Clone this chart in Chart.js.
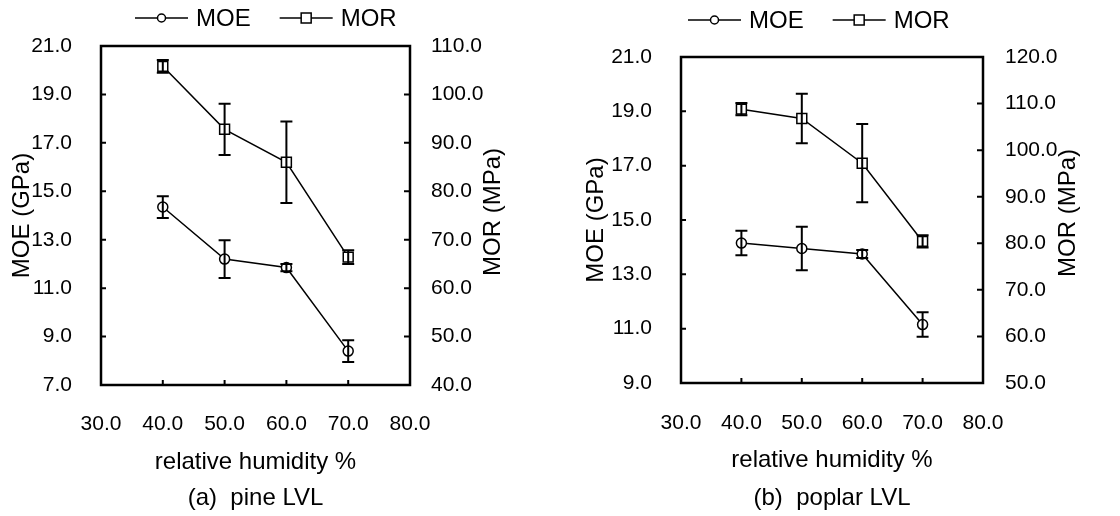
<!DOCTYPE html>
<html>
<head>
<meta charset="utf-8">
<script src="https://cdn.jsdelivr.net/npm/chart.js@4.4.1/dist/chart.umd.min.js"></script>
<style>
  html, body { margin: 0; padding: 0; background: #fff; }
  #wrap { position: relative; width: 1120px; height: 516px; }
  canvas { position: absolute; top: 0; }
</style>
</head>
<body>
<div id="wrap">
  <canvas id="pineChart" width="560" height="516" style="left:0"></canvas>
  <canvas id="poplarChart" width="560" height="516" style="left:560px"></canvas>
</div>
<script>
// relative humidity levels (%)
const humidity = [40, 50, 60, 70];

// (a) pine LVL
const pineMOE = [14.35, 12.2, 11.85, 8.4];
const pineMOEErr = [0.45, 0.78, 0.15, 0.45];
const pineMOR = [105.8, 92.8, 86.0, 66.4];
const pineMORErr = [1.3, 5.3, 8.4, 1.4];

// (b) poplar LVL
const poplarMOE = [14.15, 13.95, 13.75, 11.15];
const poplarMOEErr = [0.45, 0.8, 0.15, 0.45];
const poplarMOR = [108.8, 106.8, 97.2, 80.4];
const poplarMORErr = [1.3, 5.3, 8.4, 1.3];

const FONT = "'Liberation Sans', Arial, sans-serif";
Chart.defaults.font.family = FONT;
Chart.defaults.color = '#000';

// error bars, frame and inward tick marks
const errorBars = {
    id: 'errorBars',
    afterDatasetsDraw(chart) {
        const ctx = chart.ctx;
        ctx.save();
        ctx.strokeStyle = '#000';
        ctx.lineWidth = 2;
        chart.data.datasets.forEach((ds, di) => {
            const meta = chart.getDatasetMeta(di);
            const scale = chart.scales[ds.yAxisID];
            meta.data.forEach((pt, i) => {
                const top = scale.getPixelForValue(ds.data[i] + ds.err[i]);
                const bot = scale.getPixelForValue(ds.data[i] - ds.err[i]);
                ctx.beginPath();
                ctx.moveTo(pt.x, top); ctx.lineTo(pt.x, bot);
                ctx.moveTo(pt.x - 6, top); ctx.lineTo(pt.x + 6, top);
                ctx.moveTo(pt.x - 6, bot); ctx.lineTo(pt.x + 6, bot);
                ctx.stroke();
            });
        });
        ctx.restore();
    },
    afterDraw(chart) {
        const ctx = chart.ctx;
        const a = chart.chartArea;
        const opts = chart.options.plugins.errorBars;
        ctx.save();
        ctx.strokeStyle = '#000';
        ctx.lineWidth = 2.5;
        ctx.strokeRect(a.left, a.top, a.right - a.left, a.bottom - a.top);

        ctx.lineWidth = 2;
        ctx.beginPath();
        const xs = chart.scales.x;
        xs.ticks.forEach(t => {
            if (t.value <= xs.min || t.value >= xs.max) return;
            const px = xs.getPixelForValue(t.value);
            ctx.moveTo(px, a.bottom); ctx.lineTo(px, a.bottom - 5);
        });
        const ys = chart.scales.y;
        ys.ticks.forEach(t => {
            if (t.value <= ys.min || t.value >= ys.max) return;
            const py = ys.getPixelForValue(t.value);
            ctx.moveTo(a.left, py); ctx.lineTo(a.left + 5, py);
        });
        const y1 = chart.scales.y1;
        y1.ticks.forEach(t => {
            if (t.value <= y1.min || t.value >= y1.max) return;
            const py = y1.getPixelForValue(t.value);
            ctx.moveTo(a.right, py); ctx.lineTo(a.right - 6, py);
        });
        ctx.stroke();

        // right axis title, reads bottom to top
        ctx.fillStyle = '#000';
        ctx.font = '24px ' + FONT;
        ctx.textAlign = 'center';
        ctx.textBaseline = 'middle';
        ctx.translate(opts.rightTitleX, opts.rightTitleY);
        ctx.rotate(-Math.PI / 2);
        ctx.fillText(opts.rightTitle, 0, 0);
        ctx.restore();

        // legend: line - marker - line, then label
        ctx.save();
        ctx.font = '24px ' + FONT;
        ctx.textBaseline = 'middle';
        ctx.fillStyle = '#000';
        ctx.strokeStyle = '#000';
        let lx = opts.legendX;
        const ly = opts.legendY;
        chart.data.datasets.forEach(ds => {
            ctx.lineWidth = 1.5;
            ctx.beginPath();
            ctx.moveTo(lx, ly); ctx.lineTo(lx + 53, ly);
            ctx.stroke();
            const cx = lx + 26.5;
            ctx.fillStyle = '#fff';
            ctx.beginPath();
            if (ds.pointStyle === 'circle') {
                ctx.arc(cx, ly, 4, 0, Math.PI * 2);
            } else {
                ctx.rect(cx - 5, ly - 5, 10, 10);
            }
            ctx.fill();
            ctx.stroke();
            ctx.fillStyle = '#000';
            ctx.fillText(ds.label, lx + 61, ly + 1);
            lx += 61 + ctx.measureText(ds.label).width + 29;
        });
        ctx.restore();
    }
};

function makeChart(id, moe, moeErr, mor, morErr, cfg) {
    const ctx = document.getElementById(id).getContext('2d');
    return new Chart(ctx, {
        type: 'line',
        data: {
            datasets: [{
                label: 'MOE',
                data: moe,
                err: moeErr,
                yAxisID: 'y',
                borderColor: '#000',
                borderWidth: 1.5,
                pointStyle: 'circle',
                pointRadius: 5,
                pointBorderWidth: 1.5,
                pointBackgroundColor: '#fff',
                pointBorderColor: '#000'
            }, {
                label: 'MOR',
                data: mor,
                err: morErr,
                yAxisID: 'y1',
                borderColor: '#000',
                borderWidth: 1.5,
                pointStyle: 'rect',
                pointRadius: 7,
                pointBorderWidth: 1.5,
                pointBackgroundColor: '#fff',
                pointBorderColor: '#000'
            }],
            labels: humidity
        },
        options: {
            responsive: false,
            animation: false,
            devicePixelRatio: 1,
            layout: { padding: { top: cfg.top, left: 0, right: 0, bottom: 0 } },
            scales: {
                x: {
                    type: 'linear',
                    min: 30, max: 80,
                    afterFit: s => { s.height = cfg.xHeight; },
                    grid: { display: false },
                    border: { display: false },
                    ticks: { stepSize: 10, padding: cfg.xPad, font: { size: 21 },
                        callback: v => v.toFixed(1) },
                    title: { display: true, text: 'relative humidity %', font: { size: 24 },
                        padding: { bottom: cfg.xTitlePad } }
                },
                y: {
                    position: 'left',
                    min: cfg.yMin, max: 21,
                    afterFit: s => { s.width = cfg.left; },
                    grid: { display: false },
                    border: { display: false },
                    ticks: { stepSize: 2, padding: 21, font: { size: 21 },
                        callback: v => v.toFixed(1) },
                    title: { display: true, text: 'MOE (GPa)', font: { size: 24 },
                        padding: { top: cfg.yTitlePad } }
                },
                y1: {
                    position: 'right',
                    min: cfg.y1Min, max: cfg.y1Max,
                    afterFit: s => { s.width = 560 - cfg.right; },
                    grid: { display: false },
                    border: { display: false },
                    ticks: { stepSize: 10, padding: cfg.y1Pad, font: { size: 21 },
                        callback: v => v.toFixed(1) }
                }
            },
            plugins: {
                legend: { display: false },
                tooltip: { enabled: false },
                title: {
                    display: true,
                    position: 'bottom',
                    fullSize: false,
                    text: cfg.caption,
                    font: { size: 24, weight: 'normal' },
                    padding: { top: 0, bottom: 3.6 }
                },
                errorBars: {
                    rightTitle: 'MOR (MPa)',
                    rightTitleX: cfg.rtX,
                    rightTitleY: cfg.rtY,
                    legendX: cfg.legendX,
                    legendY: cfg.legendY
                }
            }
        },
        plugins: [errorBars]
    });
}

const pineChart = makeChart('pineChart', pineMOE, pineMOEErr, pineMOR, pineMORErr, {
    caption: '(a)  pine LVL',
    top: 46, left: 101, right: 410, xHeight: 98.6, xPad: 19, xTitlePad: 7.2,
    yMin: 7, y1Min: 40, y1Max: 110, yTitlePad: 7.6, y1Pad: 13,
    rtX: 493, rtY: 212, legendX: 135, legendY: 18
});
const poplarChart = makeChart('poplarChart', poplarMOE, poplarMOEErr, poplarMOR, poplarMORErr, {
    caption: '(b)  poplar LVL',
    top: 57, left: 121, right: 423, xHeight: 100.6, xPad: 20, xTitlePad: 9.2,
    yMin: 9, y1Min: 50, y1Max: 120, yTitlePad: 21.6, y1Pad: 14,
    rtX: 508, rtY: 213, legendX: 128, legendY: 20
});
</script>
</body>
</html>
